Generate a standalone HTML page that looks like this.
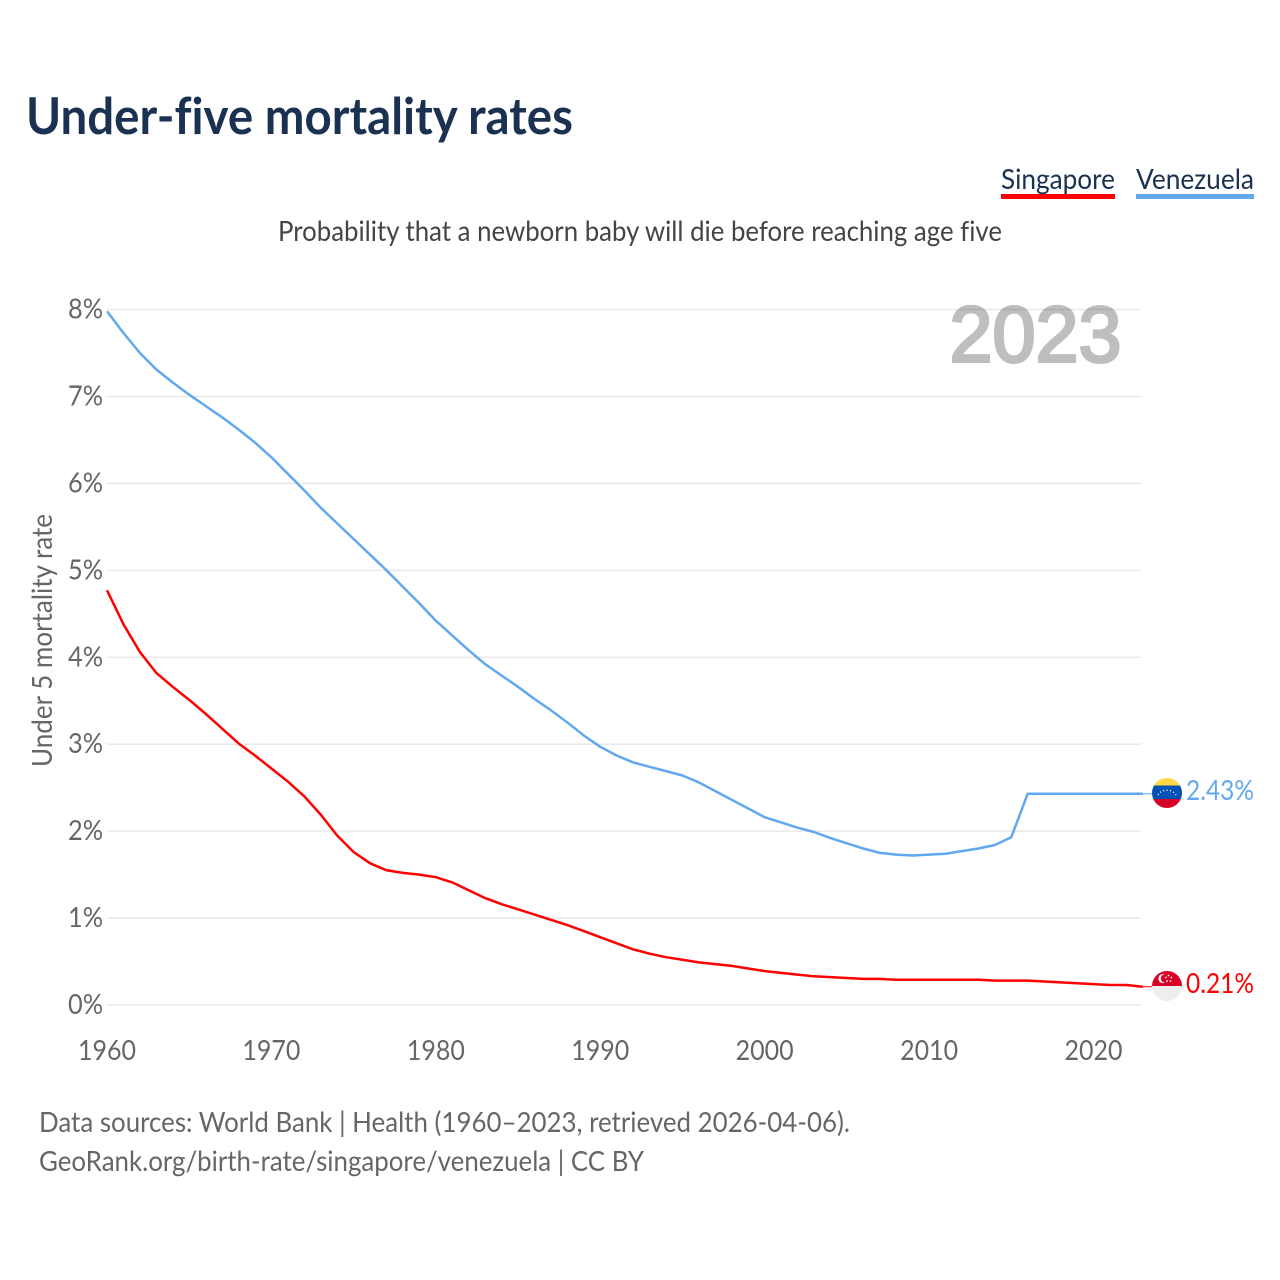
<!DOCTYPE html>
<html lang="en">
<head>
<meta charset="utf-8">
<title>Under-five mortality rates</title>
<style>
html,body{margin:0;padding:0;background:#fff;width:1280px;height:1280px;overflow:hidden}
svg{display:block}
text{font-family:"Lato","Carlito","Liberation Sans",sans-serif;font-variant-ligatures:none}
</style>
</head>
<body>
<svg id="chart" xmlns="http://www.w3.org/2000/svg" width="1280" height="1280" viewBox="0 0 1280 1280">
  <text x="26" y="134" font-size="51" font-weight="700" fill="#1a3152" textLength="547" lengthAdjust="spacingAndGlyphs">Under-five mortality rates</text>

  <g>
    <g>
      <text x="1001" y="189" font-size="28.5" fill="#1a3152" textLength="114" lengthAdjust="spacingAndGlyphs">Singapore</text>
      <rect x="1001" y="194" width="114" height="5" fill="#ff0000"/>
    </g>
    <g>
      <text x="1136" y="189" font-size="28.5" fill="#1a3152" textLength="118" lengthAdjust="spacingAndGlyphs">Venezuela</text>
      <rect x="1136" y="194" width="118" height="5" fill="#62a8ee"/>
    </g>
  </g>

  <text x="278" y="241" font-size="28.5" fill="#444444" textLength="724" lengthAdjust="spacingAndGlyphs">Probability that a newborn baby will die before reaching age five</text>

  <g id="grid"></g>
  <g id="y-ticks"></g>
  <g id="x-ticks"></g>

  <text transform="translate(52,767) rotate(-90)" x="0" y="0" font-size="28.5" fill="#666666" textLength="253" lengthAdjust="spacingAndGlyphs">Under 5 mortality rate</text>

  <text x="949.5" y="361.5" font-size="79" fill="#000000" stroke="#000000" stroke-width="3" opacity="0.25" textLength="172" lengthAdjust="spacingAndGlyphs" style="font-family:'Liberation Sans',sans-serif">2023</text>

  <g id="series"></g>

  <defs>
    <clipPath id="clip-ve"><circle cx="1167" cy="793" r="15"/></clipPath>
    <clipPath id="clip-sg"><circle cx="1167" cy="986" r="15"/></clipPath>
  </defs>

  <g clip-path="url(#clip-ve)">
    <rect x="1152" y="778" width="30" height="7.5" fill="#ffda44"/>
    <rect x="1152" y="785.5" width="30" height="13.5" fill="#0052b4"/>
    <rect x="1152" y="799" width="30" height="9" fill="#d80027"/>
    <path d="M1158 795 A9.5 7 0 0 1 1176 795" fill="none" stroke="#ffffff" stroke-width="1.2" stroke-dasharray="1.2 2.2"/>
  </g>
  <g clip-path="url(#clip-sg)">
    <rect x="1152" y="971" width="30" height="15" fill="#d80027"/>
    <rect x="1152" y="986" width="30" height="15" fill="#eeeeee"/>
    <circle cx="1163" cy="978.5" r="4.6" fill="#ffffff"/>
    <circle cx="1165" cy="978.5" r="4.2" fill="#d80027"/>
    <g fill="#ffffff">
      <circle cx="1168.5" cy="975.5" r="0.9"/>
      <circle cx="1171.5" cy="977.5" r="0.9"/>
      <circle cx="1170.5" cy="981" r="0.9"/>
      <circle cx="1167" cy="981" r="0.9"/>
      <circle cx="1166" cy="977.5" r="0.9"/>
    </g>
  </g>

  <text x="1186" y="800" font-size="28.5" fill="#62a8ee" textLength="68" lengthAdjust="spacingAndGlyphs">2.43%</text>
  <text x="1186" y="993" font-size="28.5" fill="#ff0000" textLength="68" lengthAdjust="spacingAndGlyphs">0.21%</text>

  <text x="39" y="1132" font-size="28.5" fill="#666666" textLength="811" lengthAdjust="spacingAndGlyphs">Data sources: World Bank | Health (1960–2023, retrieved 2026-04-06).</text>
  <text x="39" y="1171" font-size="28.5" fill="#666666" textLength="605" lengthAdjust="spacingAndGlyphs">GeoRank.org/birth-rate/singapore/venezuela | CC BY</text>
</svg>

<script>
const startYear = 1960;
const yTickValues = [0, 1, 2, 3, 4, 5, 6, 7, 8];
const xTickYears = [1960, 1970, 1980, 1990, 2000, 2010, 2020];
const venezuelaValues = [
  7.98, 7.73, 7.50, 7.31, 7.16, 7.02, 6.89, 6.76, 6.62, 6.47,
  6.30, 6.11, 5.92, 5.72, 5.54, 5.36, 5.18, 5.00, 4.81, 4.62,
  4.42, 4.25, 4.08, 3.92, 3.79, 3.66, 3.52, 3.39, 3.25, 3.10,
  2.97, 2.87, 2.79, 2.74, 2.69, 2.64, 2.56, 2.46, 2.36, 2.26,
  2.16, 2.10, 2.04, 1.99, 1.92, 1.86, 1.80, 1.75, 1.73, 1.72,
  1.73, 1.74, 1.77, 1.80, 1.84, 1.93, 2.43, 2.43, 2.43, 2.43,
  2.43, 2.43, 2.43, 2.43
];
const singaporeValues = [
  4.77, 4.38, 4.06, 3.82, 3.66, 3.51, 3.35, 3.18, 3.01, 2.87,
  2.72, 2.57, 2.40, 2.19, 1.95, 1.76, 1.63, 1.55, 1.52, 1.50,
  1.47, 1.41, 1.32, 1.23, 1.16, 1.10, 1.04, 0.98, 0.92, 0.85,
  0.78, 0.71, 0.64, 0.59, 0.55, 0.52, 0.49, 0.47, 0.45, 0.42,
  0.39, 0.37, 0.35, 0.33, 0.32, 0.31, 0.30, 0.30, 0.29, 0.29,
  0.29, 0.29, 0.29, 0.29, 0.28, 0.28, 0.28, 0.27, 0.26, 0.25,
  0.24, 0.23, 0.23, 0.21
];

const NS = 'http://www.w3.org/2000/svg';
function xScale(year) { return 107 + (year - 1960) * (1093.5 - 107) / 60; }
function yScale(value) { return 1005 - value * (1005 - 309.5) / 8; }
function pathFor(values) {
  return values.map(function (v, i) {
    return (i ? 'L' : 'M') + xScale(startYear + i).toFixed(2) + ' ' + yScale(v).toFixed(2);
  }).join(' ');
}

const grid = document.getElementById('grid');
const yTicks = document.getElementById('y-ticks');
yTickValues.forEach(function (v) {
  const line = document.createElementNS(NS, 'line');
  
  
  line.setAttribute('x1', xScale(1960));
  line.setAttribute('x2', 1141);
  line.setAttribute('y1', yScale(v));
  line.setAttribute('y2', yScale(v));
  line.setAttribute('stroke', '#e9e9e9');
  line.setAttribute('stroke-width', '1.5');
  grid.appendChild(line);

  const label = document.createElementNS(NS, 'text');
  
  
  label.setAttribute('x', 103);
  label.setAttribute('y', yScale(v) + 9);
  label.setAttribute('text-anchor', 'end');
  label.setAttribute('font-size', '28.5');
  label.setAttribute('fill', '#666666');
  label.setAttribute('textLength', '35');
  label.setAttribute('lengthAdjust', 'spacingAndGlyphs');
  label.textContent = v + '%';
  yTicks.appendChild(label);
});

const xTicks = document.getElementById('x-ticks');
xTickYears.forEach(function (year) {
  const label = document.createElementNS(NS, 'text');
  
  
  label.setAttribute('x', xScale(year));
  label.setAttribute('y', 1060);
  label.setAttribute('text-anchor', 'middle');
  label.setAttribute('font-size', '28.5');
  label.setAttribute('fill', '#666666');
  label.setAttribute('textLength', '58');
  label.setAttribute('lengthAdjust', 'spacingAndGlyphs');
  label.textContent = year;
  xTicks.appendChild(label);
});

const seriesGroup = document.getElementById('series');

const venezuelaLine = document.createElementNS(NS, 'path');


venezuelaLine.setAttribute('d', pathFor(venezuelaValues));
venezuelaLine.setAttribute('fill', 'none');
venezuelaLine.setAttribute('stroke', '#62a8ee');
venezuelaLine.setAttribute('stroke-width', '2.5');
venezuelaLine.setAttribute('stroke-linejoin', 'round');
seriesGroup.appendChild(venezuelaLine);

const venezuelaConnector = document.createElementNS(NS, 'line');


venezuelaConnector.setAttribute('x1', xScale(2023));
venezuelaConnector.setAttribute('x2', 1152);
venezuelaConnector.setAttribute('y1', yScale(venezuelaValues[venezuelaValues.length - 1]));
venezuelaConnector.setAttribute('y2', yScale(venezuelaValues[venezuelaValues.length - 1]));
venezuelaConnector.setAttribute('stroke', '#62a8ee');
venezuelaConnector.setAttribute('stroke-width', '1');
seriesGroup.appendChild(venezuelaConnector);

const singaporeLine = document.createElementNS(NS, 'path');


singaporeLine.setAttribute('d', pathFor(singaporeValues));
singaporeLine.setAttribute('fill', 'none');
singaporeLine.setAttribute('stroke', '#ff0000');
singaporeLine.setAttribute('stroke-width', '2.5');
singaporeLine.setAttribute('stroke-linejoin', 'round');
seriesGroup.appendChild(singaporeLine);

const singaporeConnector = document.createElementNS(NS, 'line');


singaporeConnector.setAttribute('x1', xScale(2023));
singaporeConnector.setAttribute('x2', 1152);
singaporeConnector.setAttribute('y1', yScale(singaporeValues[singaporeValues.length - 1]));
singaporeConnector.setAttribute('y2', yScale(singaporeValues[singaporeValues.length - 1]));
singaporeConnector.setAttribute('stroke', '#ff0000');
singaporeConnector.setAttribute('stroke-width', '1');
seriesGroup.appendChild(singaporeConnector);
</script>
</body>
</html>
